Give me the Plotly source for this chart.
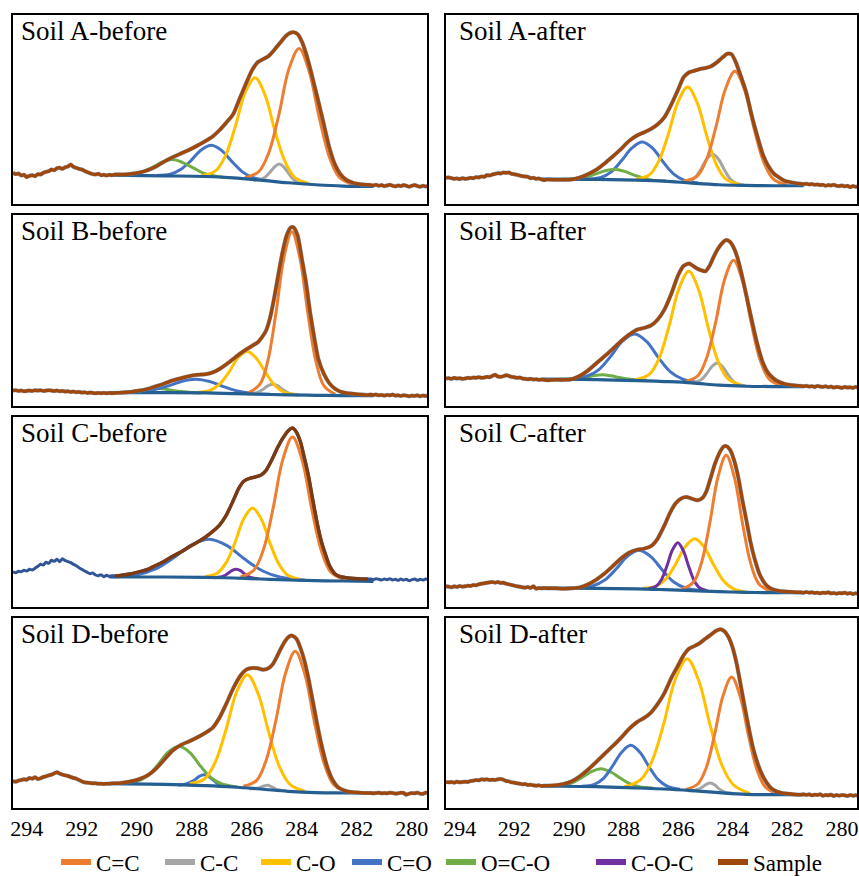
import plotly.graph_objects as go

# ---------------- axis / shared grids ----------------
ENERGY_TICKS = [294, 292, 290, 288, 286, 284, 282, 280]
LEFT_TAIL_X = [294.5, 294.4, 294.3, 294.2, 294.1, 294.0, 293.9, 293.8, 293.7, 293.6,
               293.5, 293.4, 293.3, 293.2, 293.1, 293.0, 292.9, 292.8, 292.7, 292.6,
               292.5, 292.4, 292.3, 292.2, 292.1, 292.0, 291.9, 291.8, 291.7, 291.6,
               291.5, 291.4, 291.3, 291.2, 291.1, 291.0, 290.9, 290.8]
RIGHT_TAIL_X = [281.5, 281.4, 281.3, 281.2, 281.1, 281.0, 280.9, 280.8, 280.7, 280.6, 280.5,
                280.4, 280.3, 280.2, 280.1, 280.0, 279.9, 279.8, 279.7, 279.6, 279.5, 279.4]
BASELINE_X = [291.0, 289.0, 287.5, 286.5, 285.5, 284.5, 283.5, 282.5, 281.4]

# ---------------- Soil A-before ----------------
AB_TAIL_L = [94, 90, 92, 86, 88, 81, 85, 87, 84, 90, 89, 94, 97, 99, 104, 102, 108, 109, 106, 111,
             113, 119, 112, 109, 106, 104, 100, 96, 93, 90, 89, 91, 87, 88, 86, 88, 87, 89]
AB_MAIN_X = [290.5, 290.2, 289.9, 289.6, 289.3, 289.0, 288.7, 288.4, 288.1, 287.8, 287.5, 287.25, 287.0,
             286.75, 286.5, 286.25, 286.0, 285.8, 285.6, 285.4, 285.2, 285.0, 284.8, 284.6, 284.45, 284.3,
             284.15, 284.0, 283.85, 283.7, 283.55, 283.4, 283.2, 283.0, 282.8, 282.6, 282.4, 282.2, 282.0,
             281.8, 281.6]
AB_MAIN_Y = [89, 91, 95, 102, 113, 128, 141, 152, 163, 176, 190, 203, 222, 245, 270, 320, 369, 405, 428,
             437, 447, 465, 485, 505, 515, 518, 512, 490, 455, 410, 360, 310, 240, 170, 120, 90, 74, 66,
             61, 59, 58]
AB_TAIL_R = [57, 56, 58, 55, 57, 54, 56, 58, 55, 53, 56, 54, 57, 55, 52, 55, 57, 54, 52, 55, 53, 54]
AB_BASE = [87, 85, 83, 79, 72, 64, 58, 54, 53]
AB_CC2_X = [286.07, 285.56, 285.2, 284.83, 284.47, 284.1, 283.74, 283.37, 283.0, 282.64, 282.13]
AB_CC2_Y = [79, 98, 155, 271, 407, 469, 402, 262, 142, 81, 58]
AB_CC1_X = [285.77, 285.52, 285.35, 285.17, 284.99, 284.82, 284.65, 284.47, 284.3, 284.12, 283.87]
AB_CC1_Y = [72, 73, 80, 95, 112, 121, 111, 91, 74, 64, 60]
AB_CO1_X = [287.64, 287.14, 286.78, 286.42, 286.06, 285.7, 285.34, 284.98, 284.62, 284.26, 283.76]
AB_CO1_Y = [86, 100, 145, 233, 336, 381, 329, 221, 130, 80, 62]
AB_CO2_X = [289.28, 288.78, 288.41, 288.03, 287.66, 287.28, 286.91, 286.53, 286.16, 285.78, 285.28]
AB_CO2_Y = [86, 90, 104, 131, 163, 177, 161, 127, 97, 80, 71]
AB_OCO_X = [290.7, 290.2, 289.83, 289.45, 289.08, 288.7, 288.33, 287.95, 287.58, 287.2, 286.7]
AB_OCO_Y = [86, 89, 96, 110, 126, 134, 125, 109, 93, 85, 79]

# ---------------- Soil A-after ----------------
AA_TAIL_L = [79, 80, 78, 76, 77, 75, 78, 76, 77, 79, 78, 81, 80, 83, 82, 87, 86, 89, 91, 93,
             92, 95, 94, 95, 91, 90, 88, 86, 84, 83, 82, 78, 79, 76, 77, 74, 72, 74]
AA_MAIN_X = [290.5, 290.2, 289.9, 289.6, 289.3, 289.0, 288.7, 288.4, 288.1, 287.8, 287.5, 287.25, 287.0,
             286.75, 286.5, 286.25, 286.0, 285.8, 285.6, 285.4, 285.2, 285.0, 284.8, 284.6, 284.4, 284.2,
             284.05, 283.9, 283.7, 283.5, 283.3, 283.1, 282.9, 282.7, 282.5, 282.3, 282.1, 281.9, 281.7]
AA_MAIN_Y = [73, 73, 74, 80, 90, 103, 122, 143, 165, 190, 207, 216, 226, 240, 262, 300, 345, 382, 397,
             402, 407, 410, 415, 426, 440, 453, 452, 430, 385, 335, 265, 205, 150, 115, 92, 80, 70, 66, 63]
AA_TAIL_R = [61, 60, 61, 59, 60, 58, 59, 57, 58, 55, 57, 56, 58, 55, 54, 56, 53, 55, 51, 54, 52, 53]
AA_BASE = [75, 74, 72, 69, 63, 58, 56, 55, 55]
AA_CC2_X = [285.81, 285.32, 284.97, 284.62, 284.27, 283.92, 283.57, 283.22, 282.87, 282.52, 282.03]
AA_CC2_Y = [69, 83, 132, 231, 346, 400, 345, 228, 128, 76, 58]
AA_CC1_X = [285.86, 285.57, 285.36, 285.15, 284.94, 284.73, 284.52, 284.31, 284.1, 283.89, 283.6]
AA_CC1_Y = [67, 70, 81, 107, 137, 150, 135, 104, 76, 63, 57]
AA_CO1_X = [287.54, 287.05, 286.7, 286.35, 286.0, 285.65, 285.3, 284.95, 284.6, 284.25, 283.76]
AA_CO1_Y = [75, 88, 131, 213, 309, 353, 305, 205, 119, 75, 60]
AA_CO2_X = [289.36, 288.83, 288.45, 288.07, 287.69, 287.31, 286.93, 286.55, 286.17, 285.79, 285.26]
AA_CO2_Y = [75, 80, 97, 131, 169, 187, 168, 127, 91, 72, 63]
AA_OCO_X = [290.23, 289.74, 289.39, 289.04, 288.69, 288.34, 287.99, 287.64, 287.29, 286.94, 286.45]
AA_OCO_Y = [75, 76, 81, 90, 100, 105, 99, 88, 79, 72, 69]

# ---------------- Soil B-before ----------------
BB_TAIL_L = [46, 47, 45, 46, 44, 45, 46, 45, 47, 46, 47, 45, 46, 47, 46, 45, 46, 44, 45, 43,
             44, 42, 43, 41, 42, 40, 41, 39, 40, 39, 38, 39, 38, 39, 38, 39, 38, 39]
BB_MAIN_X = [290.5, 290.2, 289.9, 289.6, 289.3, 289.0, 288.7, 288.4, 288.1, 287.8, 287.5, 287.25, 287.0,
             286.75, 286.5, 286.25, 286.0, 285.8, 285.6, 285.45, 285.3, 285.15, 285.0, 284.85, 284.7,
             284.55, 284.4, 284.3, 284.15, 284.0, 283.85, 283.7, 283.55, 283.4, 283.2, 283.0, 282.8,
             282.6, 282.4, 282.2, 282.0, 281.8, 281.6]
BB_MAIN_Y = [40, 42, 46, 51, 59, 67, 76, 83, 89, 93, 95, 100, 110, 124, 140, 156, 170, 180, 190, 205,
             225, 265, 325, 395, 460, 510, 533, 533, 508, 440, 370, 280, 205, 140, 96, 68, 52, 43, 39,
             37, 35, 34, 33]
BB_TAIL_R = [34, 33, 34, 32, 33, 31, 33, 32, 34, 31, 32, 30, 32, 31, 29, 31, 30, 32, 29, 31, 30, 30]
BB_BASE = [40, 40, 39, 37, 35, 33, 32, 31, 31]
BB_CC2_X = [285.93, 285.52, 285.23, 284.94, 284.65, 284.36, 284.07, 283.78, 283.49, 283.2, 282.79]
BB_CC2_Y = [40, 65, 137, 278, 443, 520, 441, 276, 134, 61, 35]
BB_CC1_X = [285.99, 285.74, 285.57, 285.39, 285.22, 285.04, 284.87, 284.69, 284.52, 284.34, 284.09]
BB_CC1_Y = [36, 38, 42, 51, 61, 65, 60, 49, 40, 35, 33]
BB_CO1_X = [287.79, 287.32, 286.99, 286.65, 286.32, 285.98, 285.65, 285.31, 284.98, 284.64, 284.17]
BB_CO1_Y = [40, 47, 65, 101, 144, 163, 142, 99, 61, 41, 34]
BB_CO2_X = [290.55, 289.85, 289.35, 288.85, 288.35, 287.85, 287.35, 286.85, 286.35, 285.85, 285.15]
BB_CO2_Y = [40, 43, 49, 60, 74, 80, 73, 58, 45, 38, 35]
BB_OCO_X = [290.92, 290.5, 290.2, 289.9, 289.6, 289.3, 289.0, 288.7, 288.4, 288.1, 287.68]
BB_OCO_Y = [40, 41, 43, 46, 51, 53, 51, 46, 43, 41, 39]

# ---------------- Soil B-after ----------------
BA_TAIL_L = [82, 83, 81, 84, 82, 83, 81, 82, 84, 83, 85, 84, 86, 84, 85, 87, 86, 90, 93, 88,
             87, 89, 92, 90, 87, 86, 84, 85, 82, 81, 80, 81, 79, 80, 78, 79, 78, 77]
BA_MAIN_X = [290.5, 290.2, 289.9, 289.6, 289.3, 289.0, 288.7, 288.4, 288.1, 287.8, 287.5, 287.25, 287.0,
             286.75, 286.5, 286.25, 286.0, 285.8, 285.6, 285.45, 285.3, 285.15, 285.0, 284.85, 284.7,
             284.55, 284.4, 284.25, 284.1, 283.95, 283.8, 283.65, 283.5, 283.3, 283.1, 282.9, 282.7,
             282.5, 282.3, 282.1, 281.9, 281.7]
BA_MAIN_Y = [78, 78, 80, 90, 106, 127, 148, 170, 193, 213, 228, 233, 240, 258, 288, 335, 390, 418, 425,
             418, 410, 405, 402, 418, 445, 468, 485, 495, 490, 470, 435, 385, 330, 255, 185, 130, 98, 82,
             72, 66, 63, 61]
BA_TAIL_R = [60, 59, 60, 58, 59, 57, 60, 58, 57, 59, 56, 58, 55, 57, 56, 54, 57, 55, 56, 54, 57, 55]
BA_BASE = [80, 79, 76, 73, 69, 62, 59, 58, 58]
BA_CC2_X = [285.72, 285.27, 284.95, 284.62, 284.3, 283.97, 283.65, 283.32, 283.0, 282.67, 282.22]
BA_CC2_Y = [73, 91, 145, 252, 377, 435, 375, 247, 138, 81, 61]
BA_CC1_X = [285.59, 285.32, 285.13, 284.94, 284.75, 284.56, 284.37, 284.18, 283.99, 283.8, 283.53]
BA_CC1_Y = [70, 72, 80, 98, 119, 128, 117, 94, 74, 64, 60]
BA_CO1_X = [287.55, 287.05, 286.69, 286.33, 285.97, 285.61, 285.25, 284.89, 284.53, 284.17, 283.67]
BA_CO1_Y = [79, 95, 144, 239, 350, 402, 347, 231, 132, 81, 62]
BA_CO2_X = [289.97, 289.35, 288.91, 288.47, 288.03, 287.59, 287.15, 286.71, 286.27, 285.83, 285.21]
BA_CO2_Y = [81, 89, 108, 148, 194, 215, 192, 143, 101, 80, 69]
BA_OCO_X = [290.38, 289.96, 289.66, 289.36, 289.06, 288.76, 288.46, 288.16, 287.86, 287.56, 287.14]
BA_OCO_Y = [80, 80, 82, 86, 91, 93, 90, 85, 81, 78, 77]

# ---------------- Soil C-before ----------------
CB_TAIL_L = [105, 103, 107, 106, 110, 108, 113, 111, 116, 122, 128, 126, 134, 131, 140, 137, 143, 136,
             145, 139, 136, 133, 128, 124, 118, 113, 108, 104, 100, 102, 96, 94, 97, 91, 95, 92, 94, 93]
CB_MAIN_X = [290.5, 290.2, 289.9, 289.6, 289.3, 289.0, 288.7, 288.4, 288.1, 287.8, 287.5, 287.25, 287.0,
             286.75, 286.5, 286.3, 286.1, 285.9, 285.7, 285.5, 285.3, 285.1, 284.9, 284.7, 284.5, 284.35,
             284.2, 284.05, 283.9, 283.75, 283.6, 283.45, 283.3, 283.15, 283.0, 282.8, 282.6, 282.4,
             282.2, 282.0, 281.8, 281.6]
CB_MAIN_Y = [96, 100, 106, 113, 125, 137, 152, 165, 180, 194, 210, 226, 245, 275, 318, 355, 378, 386,
             390, 395, 410, 440, 475, 505, 528, 537, 525, 495, 445, 390, 320, 255, 200, 160, 125, 100,
             91, 88, 86, 85, 84, 84]
CB_TAIL_R = [84, 82, 85, 83, 81, 84, 82, 85, 81, 83, 80, 84, 81, 83, 79, 82, 84, 80, 83, 81, 84, 82]
CB_BASE = [90, 90, 89, 87, 84, 81, 79, 78, 77]
CB_CC2_X = [286.23, 285.74, 285.39, 285.04, 284.69, 284.34, 283.99, 283.64, 283.29, 282.94, 282.45]
CB_CC2_Y = [90, 111, 174, 298, 443, 510, 441, 294, 169, 104, 82]
CB_CO1_X = [287.52, 287.07, 286.75, 286.43, 286.11, 285.79, 285.47, 285.15, 284.83, 284.51, 284.06]
CB_CO1_Y = [91, 102, 133, 193, 265, 297, 263, 190, 128, 95, 83]
CB_CO2_X = [290.87, 289.97, 289.32, 288.67, 288.02, 287.37, 286.72, 286.07, 285.42, 284.77, 283.87]
CB_CO2_Y = [91, 97, 114, 147, 186, 203, 184, 143, 108, 89, 80]
CB_COC_X = [287.19, 286.98, 286.83, 286.68, 286.53, 286.38, 286.23, 286.08, 285.93, 285.78, 285.57]
CB_COC_Y = [88, 90, 93, 101, 110, 113, 109, 99, 91, 87, 85]

# ---------------- Soil C-after ----------------
CA_TAIL_L = [62, 61, 59, 62, 60, 63, 61, 62, 64, 63, 66, 65, 68, 70, 71, 73, 74, 75, 73, 75,
             72, 73, 70, 68, 66, 64, 62, 61, 59, 58, 60, 57, 62, 55, 57, 56, 57, 56]
CA_MAIN_X = [290.5, 290.2, 289.9, 289.6, 289.3, 289.0, 288.7, 288.4, 288.1, 287.8, 287.5, 287.25, 287.0,
             286.75, 286.5, 286.3, 286.1, 285.9, 285.7, 285.5, 285.3, 285.1, 284.95, 284.8, 284.65, 284.5,
             284.35, 284.25, 284.1, 283.95, 283.8, 283.65, 283.5, 283.35, 283.2, 283.0, 282.8, 282.6,
             282.4, 282.2, 282.0, 281.8, 281.6]
CA_MAIN_Y = [56, 55, 56, 59, 68, 82, 100, 122, 145, 163, 172, 175, 182, 205, 245, 282, 310, 325, 330,
             325, 320, 328, 350, 390, 430, 460, 480, 483, 472, 440, 390, 322, 260, 195, 145, 95, 68, 55,
             50, 47, 46, 45, 44]
CA_TAIL_R = [44, 43, 45, 43, 44, 42, 43, 41, 43, 42, 44, 41, 42, 40, 42, 41, 43, 40, 42, 39, 41, 40]
CA_BASE = [57, 56, 54.5, 52, 49, 46, 44, 43, 43]
CA_CC2_X = [285.86, 285.44, 285.14, 284.84, 284.54, 284.24, 283.94, 283.64, 283.34, 283.04, 282.62]
CA_CC2_Y = [54, 74, 134, 252, 390, 455, 389, 250, 130, 69, 47]
CA_CO1_X = [287.28, 286.79, 286.44, 286.09, 285.74, 285.39, 285.04, 284.69, 284.34, 283.99, 283.5]
CA_CO1_Y = [56, 63, 85, 129, 181, 205, 179, 125, 79, 55, 44]
CA_CO2_X = [289.73, 289.13, 288.7, 288.28, 287.86, 287.43, 287.0, 286.58, 286.16, 285.73, 285.13]
CA_CO2_Y = [57, 63, 80, 113, 152, 170, 151, 111, 75, 57, 49]
CA_COC_X = [287.09, 286.81, 286.61, 286.41, 286.21, 286.01, 285.81, 285.61, 285.41, 285.21, 284.93]
CA_COC_Y = [55, 62, 82, 123, 171, 193, 169, 121, 79, 57, 49]

# ---------------- Soil D-before ----------------
DB_TAIL_L = [80, 79, 82, 84, 86, 85, 90, 88, 92, 87, 89, 93, 95, 98, 100, 104, 107, 103, 100, 98,
             96, 93, 90, 88, 84, 80, 77, 76, 75, 74, 74, 73, 73, 72, 73, 73, 74, 74]
DB_MAIN_X = [290.5, 290.2, 289.9, 289.6, 289.3, 289.0, 288.7, 288.4, 288.1, 287.8, 287.5, 287.25, 287.0,
             286.75, 286.5, 286.25, 286.0, 285.8, 285.6, 285.4, 285.2, 285.05, 284.9, 284.75, 284.6,
             284.45, 284.35, 284.2, 284.05, 283.9, 283.75, 283.6, 283.45, 283.3, 283.1, 282.9, 282.7,
             282.5, 282.3, 282.1, 281.9, 281.7]
DB_MAIN_Y = [76, 80, 87, 98, 118, 145, 172, 189, 200, 212, 226, 240, 270, 312, 358, 395, 416, 420, 419,
             415, 420, 432, 455, 480, 502, 515, 517, 508, 480, 440, 385, 320, 255, 195, 130, 87, 64, 54,
             49, 47, 46, 45]
DB_TAIL_R = [45, 44, 45, 46, 44, 45, 44, 46, 45, 43, 44, 46, 45, 40, 43, 45, 44, 46, 43, 42, 46, 45]
DB_BASE = [73, 71, 67, 63, 57, 50, 46, 45, 45]
DB_CC2_X = [286.13, 285.64, 285.29, 284.94, 284.59, 284.24, 283.89, 283.54, 283.19, 282.84, 282.35]
DB_CC2_Y = [65, 83, 145, 264, 405, 470, 401, 257, 134, 70, 49]
DB_CC1_X = [285.93, 285.75, 285.63, 285.5, 285.38, 285.25, 285.13, 285.0, 284.88, 284.75, 284.58]
DB_CC1_Y = [58, 58, 59, 62, 66, 68, 65, 59, 55, 53, 52]
DB_CO1_X = [288.08, 287.54, 287.15, 286.76, 286.37, 285.98, 285.59, 285.2, 284.81, 284.42, 283.88]
DB_CO1_Y = [73, 87, 137, 234, 348, 400, 343, 226, 123, 70, 50]
DB_CO2_X = [288.5, 288.25, 288.08, 287.9, 287.73, 287.55, 287.38, 287.2, 287.03, 286.85, 286.6]
DB_CO2_Y = [69, 71, 76, 84, 95, 100, 94, 82, 72, 67, 64]
DB_OCO_X = [290.56, 290.02, 289.63, 289.24, 288.85, 288.46, 288.07, 287.68, 287.29, 286.9, 286.36]
DB_OCO_Y = [73, 79, 95, 129, 168, 185, 166, 125, 90, 72, 63]

# ---------------- Soil D-after ----------------
DA_TAIL_L = [78, 77, 78, 76, 79, 77, 78, 79, 78, 81, 82, 84, 83, 86, 85, 86, 84, 85, 84, 86,
             87, 85, 81, 80, 77, 76, 74, 73, 71, 72, 69, 70, 68, 67, 68, 66, 67, 67]
DA_MAIN_X = [290.5, 290.2, 289.9, 289.6, 289.3, 289.0, 288.7, 288.4, 288.1, 287.8, 287.5, 287.25, 287.0,
             286.75, 286.5, 286.25, 286.0, 285.8, 285.6, 285.4, 285.2, 285.0, 284.8, 284.6, 284.45, 284.3,
             284.15, 284.0, 283.85, 283.7, 283.55, 283.4, 283.25, 283.05, 282.85, 282.6, 282.4, 282.2,
             282.0, 281.8, 281.6]
DA_MAIN_Y = [68, 72, 80, 95, 115, 138, 162, 185, 210, 237, 258, 270, 286, 312, 345, 390, 428, 458, 478,
             486, 495, 508, 520, 532, 536, 530, 512, 480, 430, 365, 298, 235, 178, 125, 88, 60, 50, 45,
             43, 41, 40]
DA_TAIL_R = [40, 41, 39, 41, 38, 40, 39, 41, 37, 39, 38, 40, 36, 39, 37, 39, 38, 36, 39, 37, 38, 37]
DA_BASE = [66, 64, 60, 57, 52, 46, 41, 40, 40]
DA_CC2_X = [285.71, 285.28, 284.97, 284.66, 284.35, 284.04, 283.73, 283.42, 283.11, 282.8, 282.37]
DA_CC2_Y = [56, 72, 121, 222, 338, 393, 335, 216, 114, 62, 43]
DA_CC1_X = [285.63, 285.42, 285.27, 285.12, 284.97, 284.82, 284.67, 284.52, 284.37, 284.22, 284.01]
DA_CC1_Y = [52, 52, 56, 62, 71, 75, 70, 59, 51, 46, 44]
DA_CO1_X = [287.97, 287.37, 286.95, 286.52, 286.1, 285.67, 285.25, 284.82, 284.4, 283.97, 283.37]
DA_CO1_Y = [64, 85, 142, 255, 387, 448, 383, 246, 129, 69, 44]
DA_CO2_X = [289.53, 289.07, 288.73, 288.4, 288.06, 287.73, 287.4, 287.06, 286.73, 286.39, 285.93]
DA_CO2_Y = [65, 71, 89, 126, 168, 188, 167, 123, 85, 65, 56]
DA_OCO_X = [290.71, 290.22, 289.87, 289.52, 289.17, 288.82, 288.47, 288.12, 287.77, 287.42, 286.93]
DA_OCO_Y = [66, 68, 76, 92, 109, 118, 108, 90, 73, 64, 60]

# ---------------- styling ----------------
COLORS = {"C=C": "#ED7D31", "C-C": "#A5A5A5", "C-O": "#FFC000", "C=O": "#4472C4",
          "O=C-O": "#70AD47", "C-O-C": "#7030A0", "Sample": "#9E480E"}
BASE_COLOR = "#255E91"
SERIF = "Liberation Serif"

LEGEND_NAMES = ["C=C", "C-C", "C-O", "C=O", "O=C-O", "C-O-C", "Sample"]
LEGEND_X_PX = [56, 160, 256, 347, 441, 591, 713]

PANELS = [
    ("Soil A-before", 0, 0, AB_TAIL_L, AB_MAIN_X, AB_MAIN_Y, AB_TAIL_R, AB_BASE,
     [("C=O", AB_CO2_X, AB_CO2_Y), ("O=C-O", AB_OCO_X, AB_OCO_Y), ("C-C", AB_CC1_X, AB_CC1_Y),
      ("C-O", AB_CO1_X, AB_CO1_Y), ("C=C", AB_CC2_X, AB_CC2_Y)]),
    ("Soil A-after", 0, 1, AA_TAIL_L, AA_MAIN_X, AA_MAIN_Y, AA_TAIL_R, AA_BASE,
     [("C=O", AA_CO2_X, AA_CO2_Y), ("O=C-O", AA_OCO_X, AA_OCO_Y), ("C-C", AA_CC1_X, AA_CC1_Y),
      ("C-O", AA_CO1_X, AA_CO1_Y), ("C=C", AA_CC2_X, AA_CC2_Y)]),
    ("Soil B-before", 1, 0, BB_TAIL_L, BB_MAIN_X, BB_MAIN_Y, BB_TAIL_R, BB_BASE,
     [("O=C-O", BB_OCO_X, BB_OCO_Y), ("C=O", BB_CO2_X, BB_CO2_Y), ("C-C", BB_CC1_X, BB_CC1_Y),
      ("C-O", BB_CO1_X, BB_CO1_Y), ("C=C", BB_CC2_X, BB_CC2_Y)]),
    ("Soil B-after", 1, 1, BA_TAIL_L, BA_MAIN_X, BA_MAIN_Y, BA_TAIL_R, BA_BASE,
     [("O=C-O", BA_OCO_X, BA_OCO_Y), ("C=O", BA_CO2_X, BA_CO2_Y), ("C-C", BA_CC1_X, BA_CC1_Y),
      ("C-O", BA_CO1_X, BA_CO1_Y), ("C=C", BA_CC2_X, BA_CC2_Y)]),
    ("Soil C-before", 2, 0, CB_TAIL_L, CB_MAIN_X, CB_MAIN_Y, CB_TAIL_R, CB_BASE,
     [("C=O", CB_CO2_X, CB_CO2_Y), ("C-O-C", CB_COC_X, CB_COC_Y),
      ("C-O", CB_CO1_X, CB_CO1_Y), ("C=C", CB_CC2_X, CB_CC2_Y)]),
    ("Soil C-after", 2, 1, CA_TAIL_L, CA_MAIN_X, CA_MAIN_Y, CA_TAIL_R, CA_BASE,
     [("C=O", CA_CO2_X, CA_CO2_Y), ("C-O", CA_CO1_X, CA_CO1_Y),
      ("C-O-C", CA_COC_X, CA_COC_Y), ("C=C", CA_CC2_X, CA_CC2_Y)]),
    ("Soil D-before", 3, 0, DB_TAIL_L, DB_MAIN_X, DB_MAIN_Y, DB_TAIL_R, DB_BASE,
     [("C=O", DB_CO2_X, DB_CO2_Y), ("O=C-O", DB_OCO_X, DB_OCO_Y), ("C-C", DB_CC1_X, DB_CC1_Y),
      ("C-O", DB_CO1_X, DB_CO1_Y), ("C=C", DB_CC2_X, DB_CC2_Y)]),
    ("Soil D-after", 3, 1, DA_TAIL_L, DA_MAIN_X, DA_MAIN_Y, DA_TAIL_R, DA_BASE,
     [("O=C-O", DA_OCO_X, DA_OCO_Y), ("C=O", DA_CO2_X, DA_CO2_Y), ("C-C", DA_CC1_X, DA_CC1_Y),
      ("C-O", DA_CO1_X, DA_CO1_Y), ("C=C", DA_CC2_X, DA_CC2_Y)]),
]

W, H = 859, 876
COL_PX = [(13, 427), (446, 857)]
ROW_PX = [(15, 204), (215, 406), (417, 607), (618, 808)]
X_RANGE = [294.5, 279.45]
Y_RANGE = [0, 570]

fig = go.Figure()
layout = {}
annotations = []

for i, (title, r, c, tl, mx, my, tr, base, comps) in enumerate(PANELS):
    assert len(tl) == len(LEFT_TAIL_X) and len(tr) == len(RIGHT_TAIL_X)
    assert len(mx) == len(my) and len(base) == len(BASELINE_X)
    n = i + 1
    xa = "x" if n == 1 else f"x{n}"
    ya = "y" if n == 1 else f"y{n}"
    common = dict(xaxis=xa, yaxis=ya, showlegend=False, hoverinfo="skip", mode="lines")
    for name, cx, cy in comps:
        assert len(cx) == len(cy)
        fig.add_trace(go.Scatter(x=cx, y=cy, line=dict(color=COLORS[name], width=3, shape="spline",
                                                       smoothing=1.0), **common))
    fig.add_trace(go.Scatter(x=BASELINE_X, y=base,
                             line=dict(color=BASE_COLOR, width=3.2, shape="spline", smoothing=1.0), **common))
    full_x = LEFT_TAIL_X + mx + RIGHT_TAIL_X
    full_y = tl + my + tr
    if title == "Soil C-before":
        fig.add_trace(go.Scatter(x=full_x, y=full_y,
                                 line=dict(color="#2F5597", width=3, shape="spline", smoothing=0.6), **common))
        fig.add_trace(go.Scatter(x=[LEFT_TAIL_X[-1]] + mx, y=[tl[-1]] + my,
                                 line=dict(color="#7B3A12", width=3.5, shape="spline", smoothing=0.6), **common))
    else:
        fig.add_trace(go.Scatter(x=full_x, y=full_y,
                                 line=dict(color="#5B9BD5", width=4.2, shape="spline", smoothing=0.6),
                                 opacity=0.6, **common))
        fig.add_trace(go.Scatter(x=full_x, y=full_y,
                                 line=dict(color=COLORS["Sample"], width=3.5, shape="spline", smoothing=0.6),
                                 **common))

    x0, x1 = COL_PX[c]
    t, b = ROW_PX[r]
    layout["xaxis" if n == 1 else f"xaxis{n}"] = dict(
        domain=[x0 / W, x1 / W], range=X_RANGE, anchor=ya, showline=True, mirror=True,
        linecolor="black", linewidth=2, showgrid=False, zeroline=False, ticks="",
        tickvals=ENERGY_TICKS, showticklabels=(r == 3),
        tickfont=dict(family=SERIF, size=22, color="black"))
    layout["yaxis" if n == 1 else f"yaxis{n}"] = dict(
        domain=[1 - b / H, 1 - t / H], range=Y_RANGE, anchor=xa, showline=True, mirror=True,
        linecolor="black", linewidth=2, showgrid=False, zeroline=False, ticks="",
        showticklabels=False)
    annotations.append(dict(text=title, xref="paper", yref="paper",
                            x=(x0 + 6) / W if c == 0 else (x0 + 11) / W, y=1 - (t - 1) / H,
                            xanchor="left", yanchor="top", showarrow=False,
                            font=dict(family=SERIF, size=27, color="black")))

# legend-only entries, one legend box per item for exact placement
legend_layout = {}
for k, (name, lx) in enumerate(zip(LEGEND_NAMES, LEGEND_X_PX)):
    key = "legend" if k == 0 else f"legend{k + 1}"
    fig.add_trace(go.Scatter(x=[None], y=[None], mode="lines", name=name,
                             line=dict(color=COLORS[name], width=6), legend=key))
    legend_layout[key] = dict(orientation="h", x=lx / W, y=1 - 862 / H, xanchor="left",
                              yanchor="middle", font=dict(family=SERIF, size=23, color="black"),
                              bgcolor="rgba(0,0,0,0)", borderwidth=0)

fig.update_layout(
    width=W, height=H, margin=dict(l=0, r=0, t=0, b=0, autoexpand=False),
    paper_bgcolor="white", plot_bgcolor="white",
    annotations=annotations,
    **legend_layout,
    **layout,
)

fig.write_html("out.html")
